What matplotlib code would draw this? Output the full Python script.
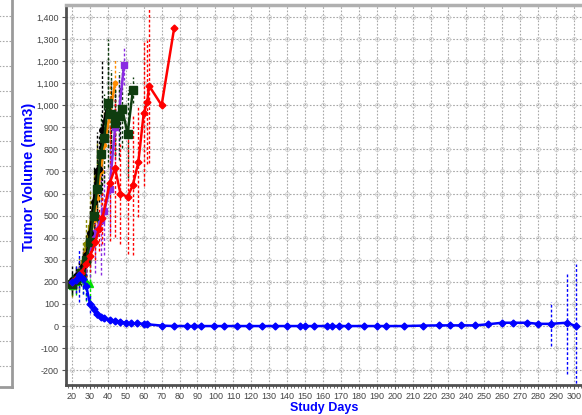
import numpy as np
import matplotlib
matplotlib.use('Agg')
import matplotlib.pyplot as plt
from matplotlib.ticker import FuncFormatter, MultipleLocator

# group means (mm3) with +/- error by study day
blue_days = [20, 22, 24, 26, 28, 30, 32, 34, 36, 38, 41, 44, 47, 50, 53, 56, 60, 62, 70,
             77, 84, 88, 92, 99, 105, 112, 119, 126, 133, 140, 147, 150, 155, 162, 165, 169,
             174, 183, 190, 195, 205, 216, 225, 231, 237, 245, 252, 260, 266, 274, 280, 287,
             296, 301]
blue_vol = [200, 210, 230, 215, 180, 100, 75, 55, 42, 35, 28, 25, 20, 15, 12, 12, 10, 8, 2,
            0, 0, 0, 0, 0, 0, 0, 0, 0, 0, 0, 0, 0, 0, 0, 0, 0,
            0, 0, 0, 0, 0, 2, 3, 3, 3, 3, 8, 15, 15, 15, 10, 10,
            15, 0]
blue_err = [30, 60, 120, 70, 60, 40, 25, 20, 12, 8, 5, 5, 4, 3, 3, 3, 2, 2, 0,
            0, 0, 0, 0, 0, 0, 0, 0, 0, 0, 0, 0, 0, 0, 0, 0, 0,
            0, 0, 0, 0, 0, 0, 0, 0, 0, 0, 0, 0, 0, 0, 0, 100,
            230, 280]

lime_days = [20, 22, 24, 26, 28, 30]
lime_vol = [180, 200, 215, 225, 205, 190]
lime_err = [40, 60, 50, 80, 90, 100]

olive_days = [20, 22, 24, 26, 28, 30, 32, 34]
olive_vol = [180, 210, 240, 290, 370, 450, 560, 680]
olive_err = [50, 60, 70, 100, 120, 160, 150, 150]

orange_days = [20, 22, 24, 26, 28, 30, 32, 34, 36, 38, 41, 44]
orange_vol = [190, 215, 245, 280, 330, 400, 480, 580, 700, 820, 950, 1100]
orange_err = [30, 40, 50, 60, 80, 100, 120, 140, 150, 150, 140, 110]

purple_days = [20, 22, 24, 26, 28, 30, 33, 36, 38, 41, 44, 46, 49]
purple_vol = [190, 210, 230, 260, 300, 360, 420, 480, 520, 620, 900, 950, 1180]
purple_err = [30, 40, 60, 80, 100, 140, 180, 250, 200, 200, 150, 180, 90]

black_days = [20, 22, 24, 26, 28, 30, 32, 34, 35, 37, 40, 42, 44, 47]
black_vol = [210, 225, 240, 270, 320, 420, 560, 700, 710, 890, 1010, 960, 925, 965]
black_err = [60, 40, 50, 80, 100, 130, 160, 180, 150, 320, 200, 150, 150, 120]

dkgreen_days = [20, 22, 25, 28, 30, 32, 34, 36, 38, 40, 42, 44, 46, 48, 51, 54]
dkgreen_vol = [190, 210, 240, 300, 380, 500, 620, 780, 850, 1010, 960, 920, 950, 985, 870, 1070]
dkgreen_err = [50, 40, 60, 80, 100, 120, 150, 180, 200, 290, 200, 150, 200, 180, 200, 60]

red_days = [20, 22, 25, 28, 30, 33, 35, 37, 41, 44, 47, 51, 54, 57, 60, 62, 63, 70, 77]
red_vol = [200, 215, 240, 280, 315, 380, 440, 490, 646, 715, 600, 585, 640, 742, 963, 1015,
           1088, 1000, 1350]
red_err = [30, 30, 40, 60, 70, 80, 100, 120, 260, 310, 230, 260, 320, 250, 330, 280,
           350, 0, 0]

series = [
    (lime_days, lime_vol, lime_err, '#00e000', '^', 4),
    (olive_days, olive_vol, olive_err, '#8c8c00', 's', 3),
    (orange_days, orange_vol, orange_err, '#ff8c00', 'o', 3),
    (purple_days, purple_vol, purple_err, '#8a2be2', 's', 4),
    (black_days, black_vol, black_err, '#000000', 'o', 4),
    (dkgreen_days, dkgreen_vol, dkgreen_err, '#0f3d0f', 's', 5.5),
    (red_days, red_vol, red_err, '#ff0000', 'D', 3.5),
    (blue_days, blue_vol, blue_err, '#0000ff', 'D', 3.5),
]

tickfont = ['Liberation Sans Narrow', 'Liberation Sans', 'DejaVu Sans']

fig = plt.figure(figsize=(5.82, 4.15), dpi=100)

# neighbouring panel, only its right edge shows
side = fig.add_axes([-0.02, 0.0675, 0.02 + 12 / 582, 0.95])
side.set_xlim(0, 1)
side.set_ylim(0, 387 / 24.5)
side.set_yticks(21 / 24.5 + np.arange(15))
side.set_xticks([])
side.tick_params(left=False, labelleft=False)
side.grid(axis='y', color='#a8a8a8', linestyle=(0, (1.5, 1.5)), linewidth=0.8)
for s in ['top', 'left']:
    side.spines[s].set_visible(False)
for s in ['right', 'bottom']:
    side.spines[s].set_color('#9a9a9a')
    side.spines[s].set_linewidth(2)

ax = fig.add_axes([66 / 582, 30 / 415, 516 / 582, 380 / 415])

for days, vol, err, col, mk, ms in series:
    eb = ax.errorbar(days, vol, yerr=err, color=col, ecolor=col, marker=mk, markersize=ms,
                     linewidth=1.8, elinewidth=1.0, capsize=0, zorder=3)
    eb[2][0].set_linestyle((0, (2, 1.5)))

ax.set_xlim(16.65, 304.5)
ax.set_ylim(-267, 1454)
ax.xaxis.set_major_locator(MultipleLocator(10))
ax.xaxis.set_minor_locator(MultipleLocator(2))
ax.yaxis.set_major_locator(MultipleLocator(100))
ax.yaxis.set_major_formatter(FuncFormatter(lambda v, p: f'{int(v):,}'))

ax.grid(True, which='major', color='#a8a8a8', linestyle=(0, (1.5, 1.5)), linewidth=0.8)
ax.set_axisbelow(True)

# little rings where the grid lines cross
gx, gy = np.meshgrid(np.arange(20, 301, 10), np.arange(-200, 1401, 100))
ax.plot(gx.ravel(), gy.ravel(), linestyle='none', marker='o', markersize=3,
        markerfacecolor='none', markeredgecolor='#cfcfcf', markeredgewidth=0.6, zorder=1)

ax.tick_params(axis='both', which='major', labelsize=6.5, colors='#555555', length=3,
               width=0.8, pad=2)
ax.tick_params(axis='x', which='minor', length=2, width=0.6, colors='#555555')
for lbl in ax.get_xticklabels() + ax.get_yticklabels():
    lbl.set_family(tickfont)
    lbl.set_color('#444444')

ax.spines['right'].set_visible(False)
ax.spines['top'].set_color('#b0b0b0')
ax.spines['top'].set_linewidth(2.5)
ax.spines['left'].set_color('#505050')
ax.spines['left'].set_linewidth(2)
ax.spines['bottom'].set_color('#505050')
ax.spines['bottom'].set_linewidth(2)

ax.set_xlabel('Study Days', color='#0000ff', fontweight='bold', fontsize=9,
              family=['Liberation Sans', 'DejaVu Sans'], labelpad=1)
ax.set_ylabel('Tumor Volume (mm3)', color='#0000ff', fontweight='bold', fontsize=10.5,
              family=['Liberation Sans', 'DejaVu Sans'])
ax.yaxis.set_label_coords(-0.058, 0.547)

fig.savefig('out.png', dpi=100)
